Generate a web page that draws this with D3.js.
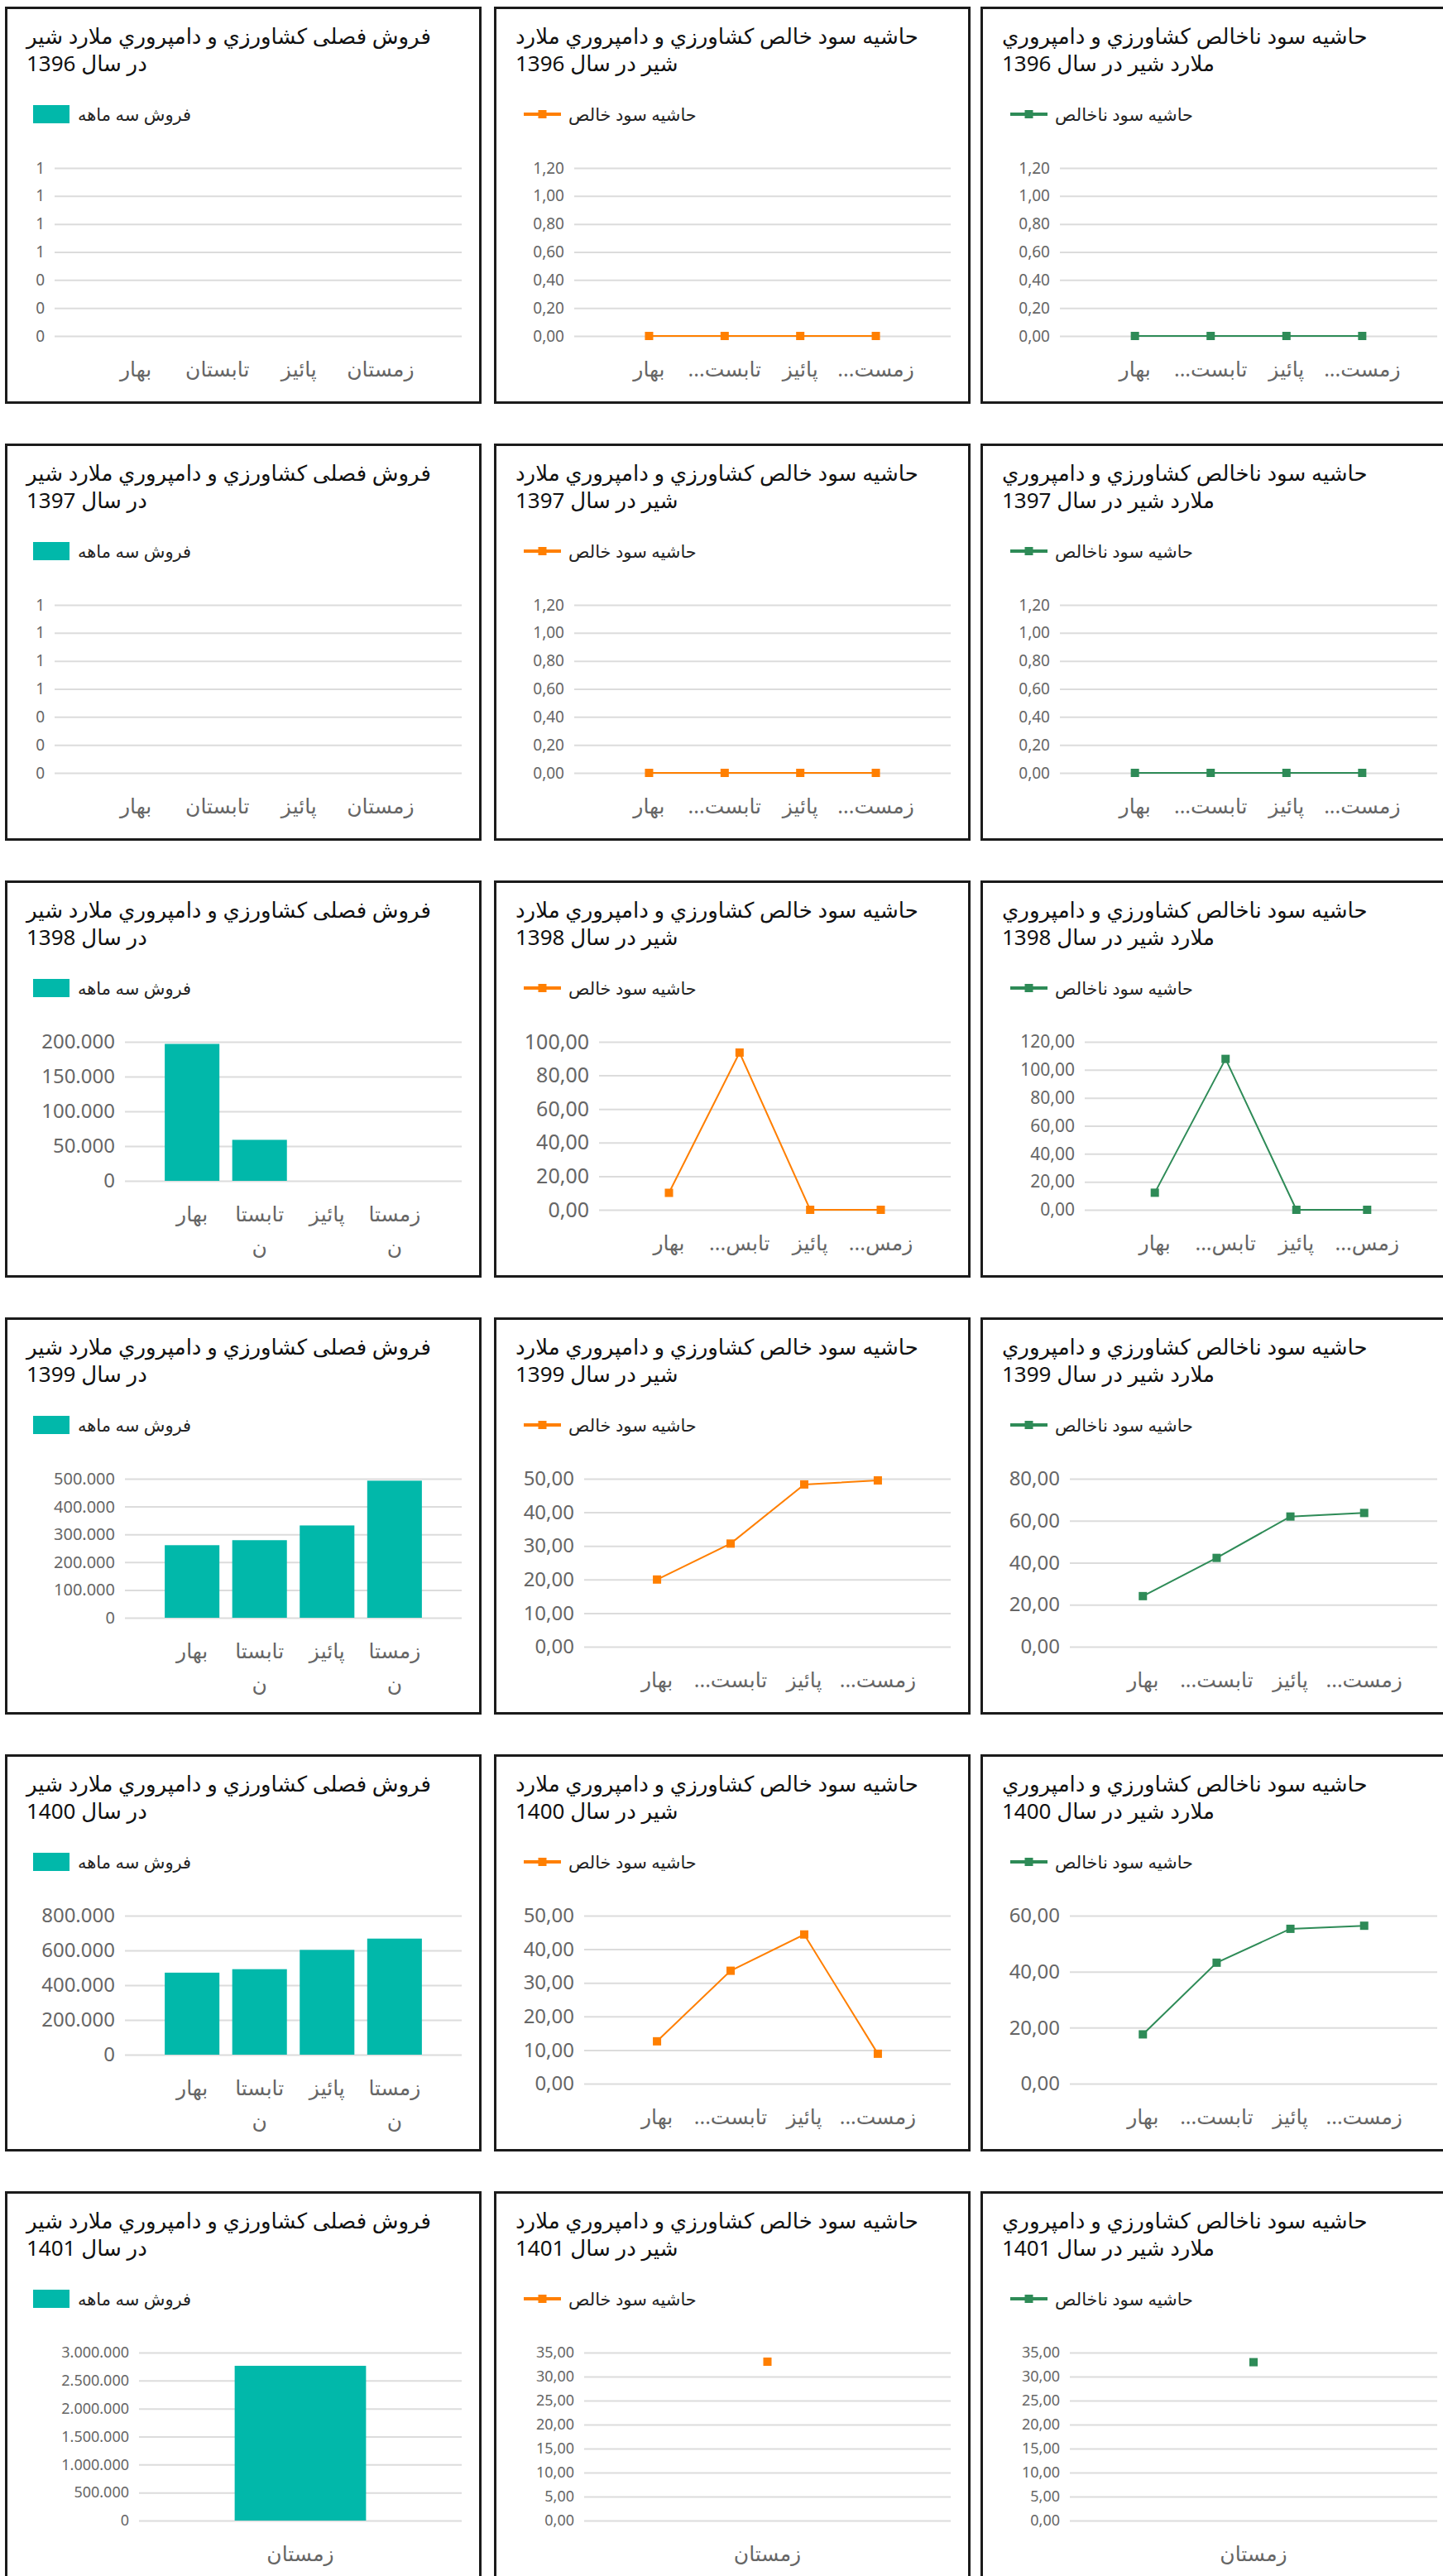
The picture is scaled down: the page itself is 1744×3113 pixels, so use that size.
<!DOCTYPE html>
<html>
<head>
<meta charset="utf-8">
<script src="https://cdn.jsdelivr.net/npm/d3@7"></script>
<style>
  body { margin: 0; background: #fff; }
  text { font-family: "Noto Sans", "DejaVu Sans", sans-serif; }
</style>
</head>
<body>
<svg width="1744" height="3113"></svg>
<script>
var years = ["1396", "1397", "1398", "1399", "1400", "1401"];
var seasons = ["بهار", "تابستان", "پائیز", "زمستان"];

// quarterly sales (null = season not reported)
var sales = [
  [0, 0, 0, 0],
  [0, 0, 0, 0],
  [197000, 59000, 0, 0],
  [261000, 279000, 332000, 493000],
  [472000, 492000, 603000, 668000],
  [null, null, null, 2764000]
];
var netMargin = [
  [0, 0, 0, 0],
  [0, 0, 0, 0],
  [10.1, 93.6, 0, 0],
  [20.0, 30.7, 48.3, 49.5],
  [12.6, 33.6, 44.4, 8.9],
  [null, null, null, 33.1]
];
var grossMargin = [
  [0, 0, 0, 0],
  [0, 0, 0, 0],
  [12.2, 107.8, 0, 0],
  [24.1, 42.3, 62.0, 63.7],
  [17.6, 43.2, 55.3, 56.4],
  [null, null, null, 33.0]
];

// value axis extents and tick steps
var salesMax = [1.2, 1.2, 200000, 500000, 800000, 3000000];
var salesStep = [0.2, 0.2, 50000, 100000, 200000, 500000];
var netMax = [1.2, 1.2, 100, 50, 50, 35];
var netStep = [0.2, 0.2, 20, 10, 10, 5];
var grossMax = [1.2, 1.2, 120, 80, 60, 35];
var grossStep = [0.2, 0.2, 20, 20, 20, 5];

// category tick labels as they appear (wrapped / truncated)
var labelsFull = [["بهار"], ["تابستان"], ["پائیز"], ["زمستان"]];
var labelsWrap = [["بهار"], ["تابستا", "ن"], ["پائیز"], ["زمستا", "ن"]];
var labelsShort = [["بهار"], ["تابست..."], ["پائیز"], ["زمست..."]];
var labelsShorter = [["بهار"], ["تابس..."], ["پائیز"], ["زمس..."]];
var salesLabels = [labelsFull, labelsFull, labelsWrap, labelsWrap, labelsWrap, labelsFull];
var marginLabels = [labelsShort, labelsShort, labelsShorter, labelsShort, labelsShort, labelsFull];

var titles = [
  ["فروش فصلی کشاورزي و دامپروري ملارد شیر", "در سال"],
  ["حاشیه سود خالص کشاورزي و دامپروري ملارد", "شیر در سال"],
  ["حاشیه سود ناخالص کشاورزي و دامپروري", "ملارد شیر در سال"]
];
var legendNames = ["فروش سه ماهه", "حاشیه سود خالص", "حاشیه سود ناخالص"];

// layout
var svg = d3.select("svg"),
    panelW = 576, panelH = 480,
    colLeft = [6, 597, 1185],
    rowPitch = 528, rowTop0 = 8,
    plotTop = 195, plotRight = 552;

var salesLeft = [60, 60, 145, 145, 145, 162],
    netLeft = [97, 97, 127, 109, 109, 109],
    grossLeft = [96, 96, 126, 108, 108, 108],
    salesBottom = [398, 398, 363, 363, 363, 398],
    salesTick = [19, 19, 24, 20, 24, 18],
    netTick = [19, 19, 25, 24, 24, 18],
    grossTick = [19, 19, 21, 24, 24, 18];

var colors = {bar: "#01b8aa", net: "#ff7f00", gross: "#2e8b57"};

var locale = d3.formatLocale({decimal: ",", thousands: ".", grouping: [3], currency: ["", ""]});
var fmtSales = locale.format(",.0f"),
    fmtMargin = locale.format(",.2f");

var RLM = "\u200F";

years.forEach(function(year, r) {
  drawPanel(0, r, {
    kind: "bar", values: sales[r], labels: salesLabels[r],
    max: salesMax[r], step: salesStep[r], format: fmtSales,
    left: salesLeft[r], bottom: salesBottom[r], tickSize: salesTick[r],
    color: colors.bar, title: titles[0], legend: legendNames[0], year: year
  });
  drawPanel(1, r, {
    kind: "line", values: netMargin[r], labels: marginLabels[r],
    max: netMax[r], step: netStep[r], format: fmtMargin,
    left: netLeft[r], bottom: 398, tickSize: netTick[r],
    color: colors.net, title: titles[1], legend: legendNames[1], year: year
  });
  drawPanel(2, r, {
    kind: "line", values: grossMargin[r], labels: marginLabels[r],
    max: grossMax[r], step: grossStep[r], format: fmtMargin,
    left: grossLeft[r], bottom: 398, tickSize: grossTick[r],
    color: colors.gross, title: titles[2], legend: legendNames[2], year: year
  });
});

function drawPanel(col, row, cfg) {
  var g = svg.append("g")
      .attr("transform", "translate(" + colLeft[col] + "," + (rowTop0 + row * rowPitch) + ")");

  g.append("rect")
      .attr("x", 1.5).attr("y", 1.5)
      .attr("width", panelW - 3).attr("height", panelH - 3)
      .attr("fill", "#fff")
      .attr("stroke", "#1b1b1b")
      .attr("stroke-width", 3);

  // title, two lines, left aligned
  [cfg.title[0], cfg.title[1] + " " + cfg.year].forEach(function(line, i) {
    g.append("text")
        .attr("x", 26)
        .attr("y", 45 + i * 33)
        .attr("font-size", 26)
        .attr("fill", "#111")
        .text(line);
  });

  // legend
  if (cfg.kind === "bar") {
    g.append("rect")
        .attr("x", 34).attr("y", 119)
        .attr("width", 44).attr("height", 22)
        .attr("fill", cfg.color);
  } else {
    g.append("line")
        .attr("x1", 36).attr("x2", 81)
        .attr("y1", 130).attr("y2", 130)
        .attr("stroke", cfg.color)
        .attr("stroke-width", 4);
    g.append("rect")
        .attr("x", 53.5).attr("y", 125)
        .attr("width", 10).attr("height", 10)
        .attr("fill", cfg.color);
  }
  g.append("text")
      .attr("x", cfg.kind === "bar" ? 88 : 90)
      .attr("y", 138)
      .attr("font-size", 21)
      .attr("fill", "#222")
      .text(cfg.legend);

  var points = seasons.map(function(s, i) {
    return {season: s, value: cfg.values[i], label: cfg.labels[i]};
  }).filter(function(d) { return d.value != null; });
  var cats = points.map(function(d) { return d.season; });

  var y = d3.scaleLinear()
      .domain([0, cfg.max])
      .range([cfg.bottom, plotTop]);

  var yAxis = g.append("g")
      .attr("transform", "translate(" + cfg.left + ",0)")
      .call(d3.axisLeft(y)
          .tickValues(d3.range(0, cfg.max + cfg.step / 2, cfg.step))
          .tickSize(-(plotRight - cfg.left))
          .tickPadding(12)
          .tickFormat(cfg.format));
  yAxis.select(".domain").remove();
  yAxis.selectAll(".tick line")
      .attr("stroke", "#dcdcdc")
      .attr("stroke-width", 2);
  yAxis.selectAll(".tick text")
      .attr("fill", "#666")
      .attr("font-size", cfg.tickSize)
      .attr("font-family", "'Noto Sans', 'DejaVu Sans', sans-serif");

  var xPos;
  if (cfg.kind === "bar") {
    var x = d3.scaleBand()
        .domain(cats)
        .range([cfg.left, plotRight])
        .paddingInner(0.19)
        .paddingOuter(0.59);
    xPos = function(c) { return x(c) + x.bandwidth() / 2; };

    g.append("g")
      .selectAll("rect")
        .data(points)
      .enter().append("rect")
        .attr("x", function(d) { return x(d.season); })
        .attr("y", function(d) { return y(d.value); })
        .attr("width", x.bandwidth())
        .attr("height", function(d) { return cfg.bottom - y(d.value); })
        .attr("fill", cfg.color);
  } else {
    var xp = d3.scalePoint()
        .domain(cats)
        .range([cfg.left, plotRight])
        .padding(0.99);
    xPos = function(c) { return xp(c); };

    g.append("path")
        .datum(points)
        .attr("fill", "none")
        .attr("stroke", cfg.color)
        .attr("stroke-width", 2)
        .attr("d", d3.line()
            .x(function(d) { return xp(d.season); })
            .y(function(d) { return y(d.value); }));

    g.append("g")
      .selectAll("rect")
        .data(points)
      .enter().append("rect")
        .attr("x", function(d) { return xp(d.season) - 5; })
        .attr("y", function(d) { return y(d.value) - 5; })
        .attr("width", 10)
        .attr("height", 10)
        .attr("fill", cfg.color);
  }

  // category labels under the plot (RLM keeps the ellipsis on the left)
  var cat = g.append("g")
    .selectAll("text")
      .data(points)
    .enter().append("text")
      .attr("text-anchor", "middle")
      .attr("font-size", 25)
      .attr("fill", "#666");
  cat.each(function(d) {
    var t = d3.select(this);
    d.label.forEach(function(line, k) {
      t.append("tspan")
          .attr("x", xPos(d.season))
          .attr("y", cfg.bottom + 40 + k * 40)
          .attr("dy", "0.35em")
          .text(RLM + line + RLM);
    });
  });
}
</script>
</body>
</html>
